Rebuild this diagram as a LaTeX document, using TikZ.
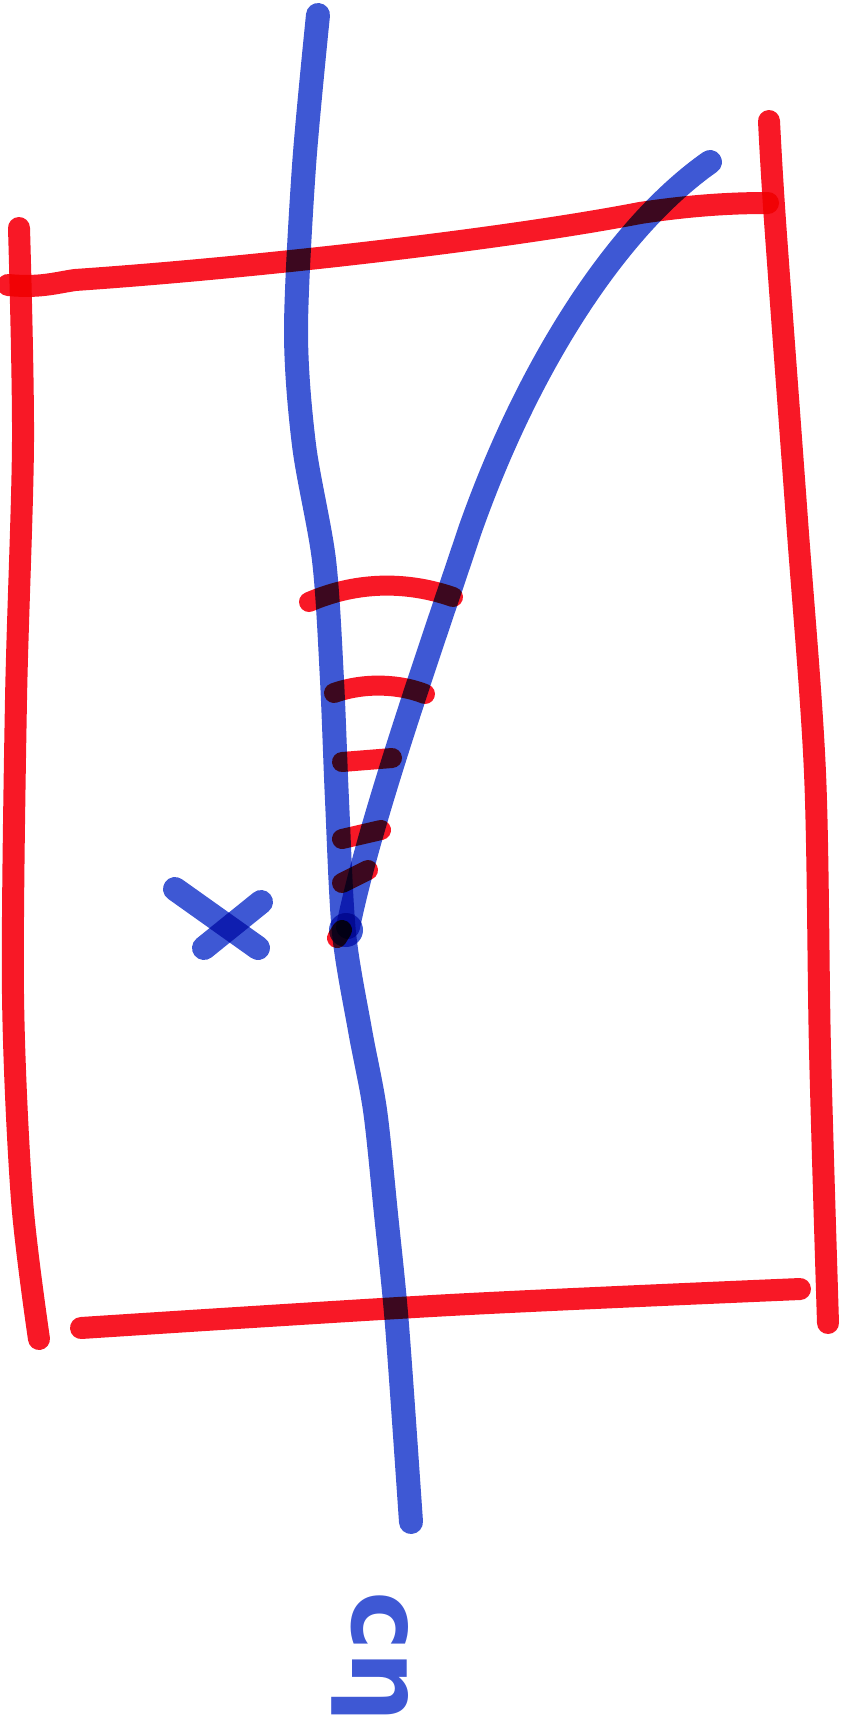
\documentclass[tikz,border=0pt]{standalone}
\usepackage{fontspec}
\usepackage{xcolor}
\usepackage{tikz}
\newfontfamily\penfont{DejaVu Sans}
\definecolor{penred}{RGB}{248,24,38}
\definecolor{penblue}{RGB}{62,88,212}

\begin{document}
\begin{tikzpicture}[
  x=1pt, y=-1pt,
  redpen/.style={draw=penred, line width=22pt, line cap=round, line join=round},
  bluepen/.style={draw=penblue, line width=24pt, line cap=round, line join=round},
  hatch/.style={redpen, line width=20pt},
  bigpen/.style={text=penblue, font=\penfont\bfseries\fontsize{100}{100}\selectfont}
]
\useasboundingbox (0,0) rectangle (850,1732);
\begin{scope}[blend mode=multiply]
% box
\draw[redpen] (8,285) .. controls (40,288) and (55,283) .. (75,280)
  .. controls (250,268) and (500,240) .. (640,213) .. controls (700,204) and (740,203) .. (768,203);
\draw[redpen] plot[smooth] coordinates {(769,121) (775,221) (797,520) (815,773) (820,1050) (828,1323)};
\draw[redpen] plot[smooth] coordinates {(19,228) (23,442) (16,700) (13,994) (22,1200) (39,1339)};
\draw[redpen] plot[smooth] coordinates {(81,1328) (450,1305) (800,1289)};

% main curve and branch
\draw[bluepen] plot[smooth] coordinates {(318,15) (304,166) (296,331) (304,445) (324,560) (332,680) (337,800) (344,933) (360,1030) (375,1110) (386,1214) (397,1325) (411,1522)};
\draw[bluepen] (710,162) .. controls (620,225) and (530,360) .. (470,530)
  .. controls (430,650) and (370,820) .. (348,927);
\fill[penblue] (346,930) circle (17pt);

% hatching between the branches
\draw[hatch] (309,602) .. controls (360,580) and (410,582) .. (453,597);
\draw[hatch] (334,693) .. controls (365,682) and (400,684) .. (425,694);
\draw[hatch] (342,762) -- (392,758);
\draw[hatch] (342,839) -- (381,830);
\draw[hatch] (342,883) -- (368,870);
\draw[hatch] (337,938) -- (342,930);

% cross
\draw[bluepen] (175,889) -- (258,948);
\draw[bluepen] (204,948) -- (261,902);
\end{scope}

\node[bigpen, rotate=-90] (lbl) at (370,1657) {cη};
\end{tikzpicture}
\end{document}
